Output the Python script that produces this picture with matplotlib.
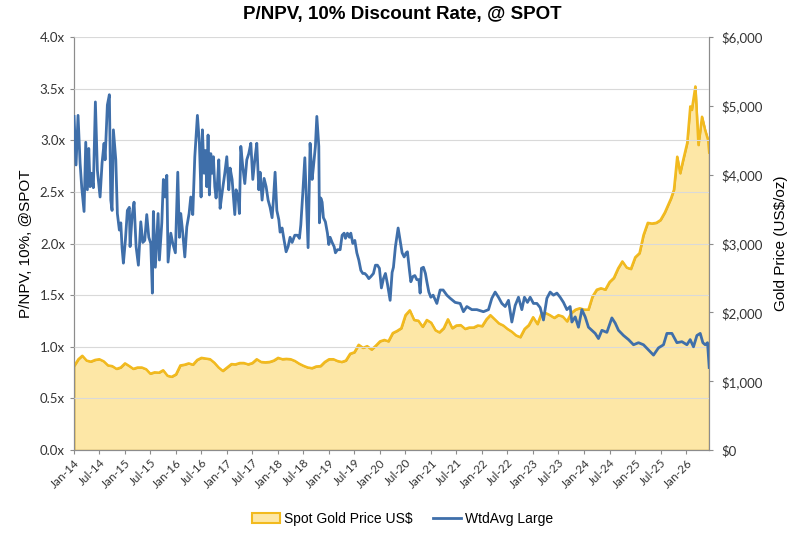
import numpy as np
import pandas as pd
import matplotlib
matplotlib.use('Agg')
import matplotlib.pyplot as plt
import matplotlib.dates as mdates
from matplotlib.patches import Patch
from matplotlib.lines import Line2D
from matplotlib.ticker import FuncFormatter, MultipleLocator

title = 'P/NPV, 10% Discount Rate, @ SPOT'
left_label = 'P/NPV, 10%, @SPOT'
right_label = 'Gold Price (US$/oz)'
gold_name = 'Spot Gold Price US$'
wtd_name = 'WtdAvg Large'

# WtdAvg Large P/NPV, time as decimal years
wtd_t = [2014.000, 2014.039, 2014.078, 2014.118, 2014.151, 2014.196, 2014.229, 2014.261, 2014.288, 2014.314,
         2014.339, 2014.378, 2014.418, 2014.457, 2014.510, 2014.549, 2014.588, 2014.608, 2014.653, 2014.692,
         2014.720, 2014.745, 2014.771, 2014.818, 2014.849, 2014.888, 2014.916, 2014.941, 2014.967, 2015.006,
         2015.045, 2015.084, 2015.098, 2015.137, 2015.176, 2015.216, 2015.261, 2015.308, 2015.347, 2015.386,
         2015.425, 2015.465, 2015.504, 2015.535, 2015.555, 2015.594, 2015.647, 2015.673, 2015.720, 2015.751,
         2015.784, 2015.818, 2015.843, 2015.896, 2015.935, 2015.986, 2016.033, 2016.065, 2016.092, 2016.131,
         2016.171, 2016.210, 2016.255, 2016.288, 2016.327, 2016.367, 2016.418, 2016.457, 2016.490, 2016.516,
         2016.549, 2016.575, 2016.602, 2016.627, 2016.653, 2016.680, 2016.706, 2016.731, 2016.759, 2016.784,
         2016.810, 2016.837, 2016.863, 2016.902, 2016.955, 2016.994, 2017.033, 2017.059, 2017.098, 2017.151,
         2017.176, 2017.216, 2017.241, 2017.269, 2017.308, 2017.347, 2017.386, 2017.425, 2017.465, 2017.504,
         2017.543, 2017.582, 2017.622, 2017.647, 2017.686, 2017.725, 2017.765, 2017.804, 2017.843, 2017.882,
         2017.908, 2017.941, 2017.975, 2018.014, 2018.039, 2018.078, 2018.118, 2018.157, 2018.196, 2018.235,
         2018.275, 2018.327, 2018.378, 2018.418, 2018.445, 2018.484, 2018.524, 2018.549, 2018.588, 2018.627,
         2018.667, 2018.692, 2018.731, 2018.759, 2018.798, 2018.810, 2018.837, 2018.863, 2018.888, 2018.927,
         2018.967, 2018.994, 2019.020, 2019.059, 2019.098, 2019.124, 2019.163, 2019.216, 2019.255, 2019.294,
         2019.320, 2019.359, 2019.398, 2019.425, 2019.465, 2019.504, 2019.543, 2019.582, 2019.622, 2019.661,
         2019.700, 2019.739, 2019.778, 2019.818, 2019.869, 2019.908, 2019.947, 2019.986, 2020.025, 2020.065,
         2020.104, 2020.143, 2020.196, 2020.235, 2020.261, 2020.300, 2020.353, 2020.392, 2020.431, 2020.471,
         2020.510, 2020.535, 2020.575, 2020.602, 2020.641, 2020.680, 2020.720, 2020.759, 2020.784, 2020.810,
         2020.849, 2020.888, 2020.916, 2020.955, 2020.994, 2021.039, 2021.112, 2021.176, 2021.235, 2021.308,
         2021.373, 2021.471, 2021.569, 2021.633, 2021.700, 2021.798, 2021.896, 2022.025, 2022.124, 2022.190,
         2022.255, 2022.320, 2022.386, 2022.451, 2022.516, 2022.582, 2022.647, 2022.712, 2022.778, 2022.829,
         2022.888, 2022.941, 2023.006, 2023.073, 2023.137, 2023.202, 2023.269, 2023.333, 2023.398, 2023.465,
         2023.529, 2023.594, 2023.661, 2023.725, 2023.759, 2023.824, 2023.888, 2023.955, 2024.020, 2024.084,
         2024.151, 2024.216, 2024.280, 2024.347, 2024.445, 2024.543, 2024.608, 2024.673, 2024.771, 2024.869,
         2024.967, 2025.065, 2025.163, 2025.261, 2025.359, 2025.457, 2025.555, 2025.622, 2025.720, 2025.818,
         2025.916, 2026.014, 2026.078, 2026.143, 2026.210, 2026.275, 2026.327, 2026.373, 2026.418, 2026.451]
wtd_v = [3.23, 2.76, 3.24, 2.78, 2.54, 2.31, 2.98, 2.52, 2.92, 2.55,
         2.68, 2.54, 3.37, 2.71, 2.45, 2.78, 2.97, 2.81, 3.34, 3.44,
         2.42, 2.32, 3.10, 2.81, 2.29, 2.13, 2.20, 1.96, 1.81, 2.03,
         2.32, 2.35, 1.97, 2.26, 2.40, 1.97, 1.79, 2.21, 2.01, 2.03,
         2.28, 2.06, 2.00, 1.52, 2.31, 1.77, 2.29, 1.84, 2.20, 2.62,
         2.45, 2.66, 1.82, 2.10, 2.00, 1.91, 2.69, 2.06, 2.29, 2.10,
         1.87, 2.16, 2.29, 2.45, 2.28, 2.84, 3.24, 2.97, 2.45, 3.10,
         2.68, 2.90, 2.55, 3.05, 2.47, 2.87, 2.68, 2.84, 2.55, 2.44,
         2.58, 2.81, 2.34, 2.49, 2.68, 2.84, 2.52, 2.73, 2.62, 2.28,
         2.52, 2.45, 2.29, 2.94, 2.74, 2.58, 2.81, 2.87, 2.97, 2.62,
         2.81, 2.97, 2.52, 2.69, 2.42, 2.63, 2.55, 2.42, 2.35, 2.25,
         2.42, 2.69, 2.32, 2.23, 2.11, 2.15, 2.03, 1.92, 1.97, 2.06,
         2.01, 2.08, 2.08, 2.05, 2.18, 2.49, 2.83, 2.50, 1.96, 2.97,
         2.62, 2.74, 2.94, 3.23, 2.94, 2.20, 2.44, 2.40, 2.25, 2.21,
         2.10, 1.99, 2.06, 2.01, 1.97, 1.91, 1.94, 1.94, 2.08, 2.10,
         2.05, 2.10, 2.06, 2.10, 2.00, 2.03, 1.91, 1.84, 1.74, 1.71,
         1.71, 1.69, 1.66, 1.68, 1.71, 1.79, 1.79, 1.76, 1.57, 1.66,
         1.71, 1.61, 1.45, 1.72, 1.77, 1.97, 2.15, 2.03, 1.91, 1.87,
         1.91, 1.92, 1.74, 1.63, 1.68, 1.69, 1.65, 1.65, 1.52, 1.76,
         1.77, 1.71, 1.63, 1.53, 1.48, 1.50, 1.42, 1.55, 1.55, 1.50,
         1.47, 1.43, 1.42, 1.34, 1.39, 1.36, 1.36, 1.34, 1.36, 1.47,
         1.53, 1.48, 1.42, 1.39, 1.45, 1.24, 1.40, 1.48, 1.36, 1.48,
         1.43, 1.48, 1.42, 1.42, 1.38, 1.26, 1.47, 1.53, 1.50, 1.52,
         1.48, 1.43, 1.36, 1.39, 1.24, 1.29, 1.19, 1.36, 1.29, 1.19,
         1.16, 1.13, 1.08, 1.16, 1.14, 1.28, 1.23, 1.16, 1.11, 1.07,
         1.02, 1.04, 1.02, 0.97, 0.92, 0.99, 1.02, 1.13, 1.13, 1.04,
         1.05, 1.02, 1.07, 1.00, 1.11, 1.13, 1.04, 1.02, 1.04, 0.80]

# spot gold, monthly Jan-14 .. Aug-25
gold_monthly = [1220, 1320, 1370, 1300, 1285, 1310, 1320, 1290, 1230, 1220, 1180, 1200,
                1260, 1220, 1180, 1200, 1200, 1175, 1110, 1130, 1125, 1160, 1080, 1065,
                1100, 1230, 1240, 1260, 1240, 1310, 1340, 1330, 1320, 1270, 1200, 1150,
                1200, 1250, 1245, 1265, 1265, 1245, 1265, 1320, 1280, 1275, 1280, 1300,
                1340, 1320, 1325, 1320, 1295, 1255, 1225, 1200, 1190, 1215, 1220, 1280,
                1320, 1320, 1295, 1280, 1300, 1400, 1420, 1530, 1485, 1510, 1460, 1515,
                1580, 1600, 1580, 1700, 1730, 1770, 1960, 2030, 1890, 1880, 1790, 1890,
                1850, 1740, 1710, 1770, 1900, 1770, 1810, 1815, 1760, 1780, 1780, 1810,
                1800, 1900, 1960, 1900, 1840, 1810, 1760, 1720, 1665, 1640, 1760, 1815,
                1930, 1830, 1980, 1990, 1960, 1920, 1960, 1940, 1870, 1990, 2040, 2060,
                2040, 2040, 2230, 2330, 2350, 2330, 2440, 2500, 2640, 2740, 2650, 2630,
                2800, 2860, 3120, 3300, 3290, 3300, 3340, 3450]
# later gold points, decimal years
gold_tail_t = [2025.70, 2025.76, 2025.824, 2025.882, 2025.94, 2026.02, 2026.08, 2026.11,
               2026.18, 2026.24, 2026.31, 2026.37, 2026.43, 2026.451]
gold_tail_v = [3650, 3780, 4260, 4020, 4210, 4460, 4990, 4940,
               5280, 4430, 4840, 4650, 4500, 4320]


def yr_to_num(t):
    t = np.asarray(t, dtype=float)
    d = pd.Timestamp('2014-01-01') + pd.to_timedelta((t - 2014) * 365.25, unit='D')
    return mdates.date2num(d)


wtd_x = yr_to_num(wtd_t)
gold_x = np.concatenate([mdates.date2num(pd.date_range('2014-01-01', periods=len(gold_monthly), freq='MS')),
                         yr_to_num(gold_tail_t)])
gold_y = np.array(gold_monthly + gold_tail_v, dtype=float)

c_blue = '#3F6FAA'
c_gold = '#F2BA1E'
c_fill = '#FDE7A6'
c_axis = '#8C8C8C'

tick_font = 'Lato'
plt.rcParams['font.family'] = ['Liberation Sans', 'DejaVu Sans']

fig = plt.figure(figsize=(8.05, 5.34), dpi=100)
ax = fig.add_axes([0.092, 0.157, 0.789, 0.774])
ax2 = ax.twinx()

ax2.fill_between(gold_x, 0, gold_y, facecolor=c_fill, edgecolor='#D9A82A', linewidth=1.2, zorder=1)
ax2.plot(gold_x, gold_y, color=c_gold, lw=1.8, zorder=2)
ax2.set_ylim(0, 6000)
ax2.yaxis.set_major_locator(MultipleLocator(1000))
ax2.yaxis.set_major_formatter(FuncFormatter(lambda v, p: f'${v:,.0f}'))

ax.plot(wtd_x, wtd_v, color=c_blue, lw=2.0, zorder=3)
ax.set_ylim(0, 4)
ax.yaxis.set_major_locator(MultipleLocator(0.5))
ax.yaxis.set_major_formatter(FuncFormatter(lambda v, p: f'{v:.1f}x'))
ax.grid(axis='y', color='#D9D9D9', lw=0.8)
ax.set_axisbelow(False)

ax.set_zorder(ax2.get_zorder() + 1)
ax.patch.set_visible(False)

xmin = yr_to_num([2014.0])[0]
xmax = yr_to_num([2026.451])[0]
ax.set_xlim(xmin, xmax)
ax.xaxis.set_major_locator(mdates.MonthLocator(bymonth=[1, 7]))
ax.xaxis.set_major_formatter(mdates.DateFormatter('%b-%y'))
for lab in ax.get_xticklabels():
    lab.set_rotation(45)
    lab.set_ha('right')
    lab.set_rotation_mode('anchor')

for a in (ax, ax2):
    for s in a.spines.values():
        s.set_color(c_axis)
        s.set_linewidth(0.8)
    a.spines['top'].set_visible(False)
    a.tick_params(colors='#333333', length=3, width=0.8, labelsize=9.5)
    for lab in a.get_yticklabels() + a.get_xticklabels():
        lab.set_family(tick_font)
ax.tick_params(axis='x', labelsize=8.5, pad=2)
ax.tick_params(axis='both', color=c_axis)
ax2.tick_params(axis='y', color=c_axis, pad=6)

ax.set_ylabel(left_label, fontsize=11, labelpad=5)
ax2.set_ylabel(right_label, fontsize=11, labelpad=8)
fig.suptitle(title, fontsize=13.5, fontweight='bold', y=0.988)

handles = [Patch(facecolor=c_fill, edgecolor=c_gold, lw=1.5),
           Line2D([], [], color=c_blue, lw=2)]
fig.legend(handles, [gold_name, wtd_name], loc='center', bbox_to_anchor=(0.5, 0.028),
           ncol=2, frameon=False, fontsize=10, handlelength=2.0, columnspacing=1.5,
           handletextpad=0.3)

fig.savefig('out.png', dpi=100)
